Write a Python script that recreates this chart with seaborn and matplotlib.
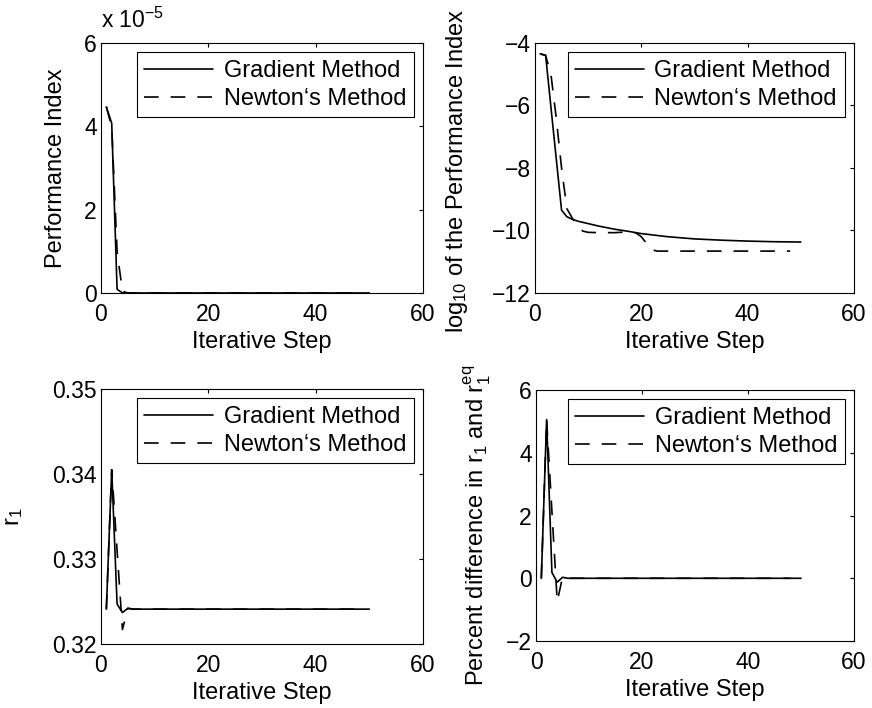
import numpy as np
import pandas as pd
import seaborn as sns
import matplotlib
matplotlib.use("Agg")
import matplotlib.pyplot as plt

# ---- data -------------------------------------------------------------
methods = ["Gradient Method", "Newton\u2018s Method"]

# log10 of the performance index per iterative step
grad_step = [1, 2, 3, 4, 5, 6, 7, 8, 10, 12, 15, 18, 20, 25, 30, 35, 40, 45, 50]
grad_log_pi = [-4.35, -4.39, -6.05, -7.70, -9.35, -9.56, -9.64, -9.70, -9.78,
               -9.86, -9.96, -10.04, -10.10, -10.20, -10.27, -10.31, -10.34,
               -10.36, -10.37]
newton_step = [1, 2, 3, 4, 5, 6, 7, 8, 9, 10, 12, 15, 17, 18, 19, 20, 21, 22,
               23, 30, 40, 48]
newton_log_pi = [-4.35, -4.40, -5.00, -6.40, -8.00, -9.30, -9.60, -9.85, -10.02,
                 -10.06, -10.07, -10.07, -10.05, -10.05, -10.08, -10.20, -10.42,
                 -10.62, -10.66, -10.66, -10.66, -10.66]

# design variable r1 per iterative step
grad_step_r = [1, 2, 3, 4, 5, 6, 20, 35, 50]
grad_r1 = [0.3241, 0.3405, 0.3247, 0.3237, 0.3242, 0.3241, 0.3241, 0.3241, 0.3241]
newton_step_r = [1, 2, 3, 4, 5, 6, 20, 35, 48]
newton_r1 = [0.3241, 0.3405, 0.3310, 0.3217, 0.3242, 0.3241, 0.3241, 0.3241, 0.3241]
r1_eq = 0.3241

x_ticks = [0, 20, 40, 60]

# ---- tidy frames --------------------------------------------------------
def frame(steps, vals, name):
    return pd.DataFrame({"step": steps, "value": vals, "method": name})

pi_df = pd.concat([frame(grad_step, grad_log_pi, methods[0]),
                   frame(newton_step, newton_log_pi, methods[1])])
pi_df["pi"] = 10.0 ** pi_df["value"]
r_df = pd.concat([frame(grad_step_r, grad_r1, methods[0]),
                  frame(newton_step_r, newton_r1, methods[1])])
r_df["pct"] = (r_df["value"] - r1_eq) / r1_eq * 100.0

# ---- style --------------------------------------------------------------
sns.set_theme(style="white")
FS = 16.5
FL = 17.0
plt.rcParams.update({
    "font.family": ["Liberation Sans", "DejaVu Sans"],
    "mathtext.fontset": "custom",
    "mathtext.rm": "Liberation Sans",
    "mathtext.default": "regular",
    "font.size": FS,
    "axes.edgecolor": "black",
    "axes.linewidth": 0.8,
    "xtick.direction": "in",
    "ytick.direction": "in",
    "xtick.top": True,
    "ytick.right": True,
    "xtick.major.size": 3.2,
    "ytick.major.size": 3.2,
    "xtick.major.width": 0.8,
    "ytick.major.width": 0.8,
    "xtick.major.pad": 7,
    "ytick.major.pad": 3,
    "xtick.color": "black",
    "ytick.color": "black",
    "xtick.labelsize": FS,
    "ytick.labelsize": FS,
    "axes.labelsize": FL,
    "text.color": "black",
    "axes.labelcolor": "black",
})

fig = plt.figure(figsize=(8.72, 7.08), dpi=100)
ax1 = fig.add_axes([0.1158, 0.5862, 0.3693, 0.3531])
ax2 = fig.add_axes([0.6135, 0.5862, 0.3658, 0.3531])
ax3 = fig.add_axes([0.1158, 0.0904, 0.3693, 0.3602])
ax4 = fig.add_axes([0.6147, 0.0946, 0.3647, 0.3545])

LW = 1.2
palette = {m: "black" for m in methods}
dashes = {methods[0]: "", methods[1]: (8.8, 7.2)}


def draw(ax, df, ycol):
    sns.lineplot(data=df, x="step", y=ycol, hue="method", style="method",
                 palette=palette, dashes=dashes, linewidth=LW, ax=ax,
                 sort=False, estimator=None)
    ax.set_xlim(0, 60)
    ax.set_xticks(x_ticks)
    ax.set_xlabel("Iterative Step", labelpad=4)
    leg = ax.legend(loc="upper right", frameon=True, fancybox=False,
                    edgecolor="black", framealpha=1, borderaxespad=0.4,
                    borderpad=0.32, labelspacing=0.25, handlelength=2.9,
                    handletextpad=0.45, fontsize=FL)
    leg.get_frame().set_linewidth(0.8)
    for line in leg.get_lines():
        line.set_linewidth(LW)
    for sp in ax.spines.values():
        sp.set_visible(True)


draw(ax1, pi_df, "pi")
ax1.set_ylim(0, 6e-5)
ax1.set_yticks([0, 2e-5, 4e-5, 6e-5])
ax1.set_yticklabels(["0", "2", "4", "6"])
ax1.set_ylabel("Performance Index")
ax1.yaxis.set_label_coords(-0.105, 0.5)
ax1.text(0.0, 1.04, "x 10$^{-5}$", transform=ax1.transAxes,
         ha="left", va="bottom", fontsize=FS)

draw(ax2, pi_df, "value")
ax2.set_ylim(-12, -4)
ax2.set_yticks([-12, -10, -8, -6, -4])
ax2.set_ylabel("log$_{10}$ of the Performance Index")
ax2.yaxis.set_label_coords(-0.205, 0.49)

draw(ax3, r_df, "value")
ax3.set_ylim(0.32, 0.35)
ax3.set_yticks([0.32, 0.33, 0.34, 0.35])
ax3.set_ylabel("r$_1$")
ax3.yaxis.set_label_coords(-0.235, 0.5)

draw(ax4, r_df, "pct")
ax4.set_ylim(-2, 6)
ax4.set_yticks([-2, 0, 2, 4, 6])
ax4.set_ylabel("Percent difference in r$_1$ and r$_1^{eq}$")
ax4.yaxis.set_label_coords(-0.135, 0.46)

fig.savefig("out.png", dpi=100, facecolor="white")
